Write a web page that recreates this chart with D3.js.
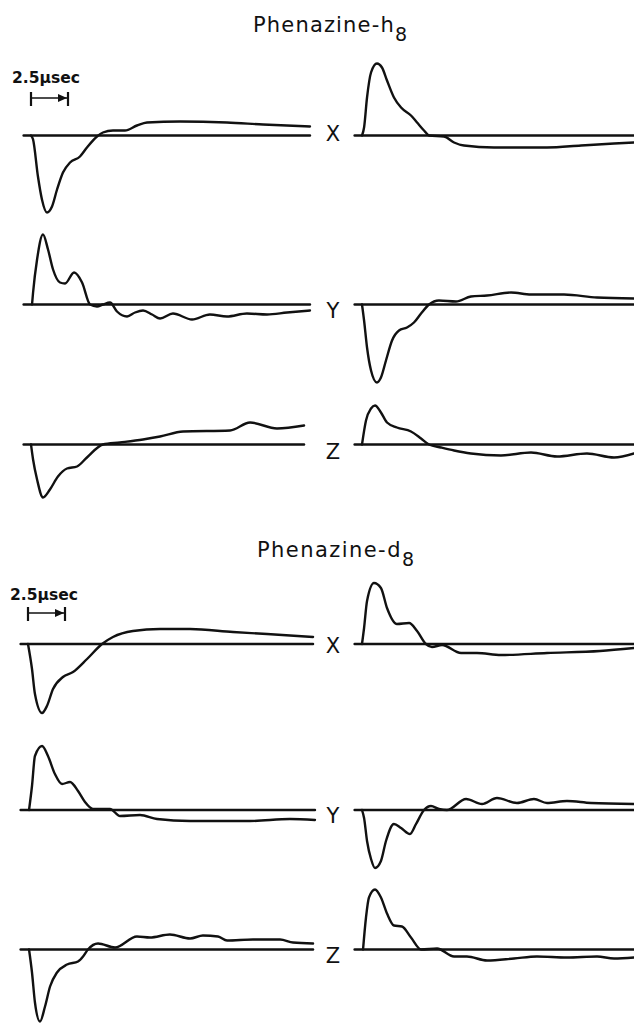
<!DOCTYPE html>
<meta charset="utf-8">
<title>Phenazine transients</title>
<script src="https://d3js.org/d3.v7.min.js"></script>
<style>
  body { margin: 0; background: #fff; }
  svg { display: block; }
  .trace, .base { fill: none; stroke: #111; stroke-width: 2.4; stroke-linejoin: round; stroke-linecap: round; }
  .lbl { font-family: "DejaVu Sans", sans-serif; fill: #111; }
</style>
<body>
<script>

// titles, row labels, time scale
var titles = ["Phenazine-h", "Phenazine-d"];
var subs = ["8", "8"];
var rowLabels = ["X", "Y", "Z"];
var barLabel = "2.5\u03bcsec";
var barLength = 2.5; // usec

// traces: [time (usec), signal (arb. units, + up)]
var h8XLeft = [[0,0],[0.14,-4],[0.47,-41],[0.74,-64],[1.08,-77],[1.42,-71],[1.76,-54],[2.16,-37],[2.64,-27],
  [3.31,-21],[3.78,-12],[4.46,-1],[4.86,3],[5.54,5],[6.35,5],[7.16,10],[7.84,13],[10.07,14],[13.24,13],[15.68,11],[18.85,9]];
var h8XRight = [[0,0],[0.14,8],[0.34,38],[0.61,63],[1.01,72],[1.35,68],[1.69,55],[2.16,38],[2.64,28],[3.31,20],
  [3.72,13],[4.19,5],[4.53,0],[5.54,-1],[6.22,-7],[6.89,-10],[8.92,-12],[10.74,-12],[12.5,-12],[14.8,-10],[17.03,-8],[18.38,-7]];
var h8YLeft = [[0.07,0],[0.14,12],[0.41,45],[0.81,70],[1.15,55],[1.49,35],[1.96,22],[2.3,21],[2.91,32],[3.45,22],
  [3.99,0],[4.46,-2],[4.86,0],[5.34,2],[5.81,-7],[6.49,-12],[7.03,-8],[7.57,-6],[8.18,-10],[8.72,-14],[9.59,-9],
  [10.88,-15],[12.09,-10],[13.24,-12],[14.59,-9],[15.95,-10],[17.3,-8],[18.85,-6]];
var h8YRight = [[0,0],[0.14,-16],[0.34,-43],[0.61,-66],[1.01,-78],[1.28,-73],[1.62,-56],[2.03,-36],[2.5,-26],
  [3.04,-23],[3.51,-18],[3.99,-9],[4.53,0],[5.2,4],[6.35,3],[7.36,8],[8.45,9],[10.07,12],[11.42,10],[13.65,10],
  [15.88,7],[18.38,6]];
var h8ZLeft = [[0,0],[0.14,-15],[0.41,-35],[0.81,-53],[1.28,-45],[1.82,-32],[2.43,-24],[3.11,-22],[3.78,-13],
  [4.86,0],[6.01,2],[7.57,5],[8.72,8],[10.27,13],[13.45,14],[14.8,22],[16.62,16],[18.45,19]];
var h8ZRight = [[0,0],[0.27,24],[0.61,36],[0.88,39],[1.28,32],[1.69,22],[2.36,17],[3.31,13],[3.99,6],[4.53,0],
  [5.34,-3],[6.22,-6],[7.36,-9],[9.39,-11],[11.42,-8],[13.18,-12],[15.2,-9],[17.03,-13],[18.38,-9]];

var d8XLeft = [[0,0],[0.27,-25],[0.47,-50],[0.95,-69],[1.28,-62],[1.69,-45],[2.36,-33],[3.04,-28],[3.99,-15],
  [5.0,0],[5.74,7],[7.09,13],[8.92,15],[10.95,15],[13.85,12],[16.15,10],[19.26,7]];
var d8XRight = [[0,0],[0.14,16],[0.34,43],[0.81,61],[1.28,56],[1.69,36],[2.36,20],[3.18,21],[3.72,13],[4.32,0],
  [4.73,-3],[5.41,-1],[6.69,-9],[7.77,-9],[9.39,-11],[12.5,-9],[16.08,-7],[18.38,-4]];
var d8YLeft = [[0.07,0],[0.27,24],[0.47,54],[0.95,64],[1.35,54],[1.82,36],[2.3,26],[2.84,28],[3.38,19],[3.85,8],
  [4.39,1],[5.54,1],[6.22,-6],[7.57,-5],[8.72,-9],[10.95,-11],[15.0,-11],[17.7,-9],[19.39,-10]];
var d8YRight = [[0,0],[0.14,-8],[0.34,-31],[0.61,-49],[0.88,-58],[1.28,-51],[1.62,-31],[2.16,-14],[2.64,-18],
  [3.24,-24],[3.65,-14],[4.19,0],[4.66,4],[5.2,1],[5.74,0],[7.03,11],[8.11,6],[9.12,12],[10.47,7],[11.62,11],
  [12.5,7],[13.85,9],[15.47,7],[18.38,6]];
var d8ZLeft = [[0.07,0],[0.27,-23],[0.47,-53],[0.81,-72],[1.15,-57],[1.49,-37],[1.96,-23],[2.64,-15],[3.38,-12],
  [3.72,-7],[4.05,0],[4.73,6],[5.88,2],[7.36,13],[8.24,12],[9.59,15],[10.95,11],[11.82,14],[12.84,13],[13.45,9],
  [15.2,10],[17.03,10],[17.91,7],[19.26,6]];
var d8ZRight = [[0.07,0],[0.27,32],[0.47,52],[0.88,60],[1.28,52],[1.69,36],[2.16,24],[2.7,23],[3.31,12],[4.0,0],
  [5.07,1],[6.22,-7],[7.09,-7],[8.45,-11],[10.27,-9],[11.82,-7],[13.85,-8],[15.88,-7],[17.03,-9],[18.38,-8]];

var h8Traces = [[h8XLeft, h8XRight], [h8YLeft, h8YRight], [h8ZLeft, h8ZRight]];
var d8Traces = [[d8XLeft, d8XRight], [d8YLeft, d8YRight], [d8ZLeft, d8ZRight]];

// page layout
var width = 634, height = 1023;
var pxPerUsec = 14.8;
var layout = [
  { traces: h8Traces, leftX0: 31, rightX0: 362, rows: [135.5, 304.5, 444.5], labelDy: [5, 13, 14],
    titleX: 253, titleY: 32, titleW: 154, barY: 98, barTextY: 83, barTextX: 12 },
  { traces: d8Traces, leftX0: 28, rightX0: 362, rows: [644, 810, 949.5], labelDy: [9, 13, 13],
    titleX: 257, titleY: 557, titleW: 157, barY: 613, barTextY: 600, barTextX: 10 }
];

var svg = d3.select("body").append("svg")
    .attr("width", width)
    .attr("height", height);

var y = d3.scaleLinear().domain([-100, 100]).range([100, -100]);

layout.forEach(function(p, pi) {
  var g = svg.append("g");

  var xl = d3.scaleLinear().domain([0, 1]).range([p.leftX0, p.leftX0 + pxPerUsec]);
  var xr = d3.scaleLinear().domain([0, 1]).range([p.rightX0, p.rightX0 + pxPerUsec]);

  // title with subscript
  var t = g.append("text").attr("class", "lbl")
      .attr("x", p.titleX).attr("y", p.titleY)
      .attr("font-size", 21)
      .attr("textLength", p.titleW)
      .attr("lengthAdjust", "spacing");
  t.append("tspan").text(titles[pi]);
  t.append("tspan").attr("dy", 9).attr("font-size", 19).text(subs[pi]);

  // time scale bar
  var bx0 = xl(0), bx1 = xl(barLength);
  g.append("text").attr("class", "lbl")
      .attr("x", p.barTextX).attr("y", p.barTextY)
      .attr("font-size", 15).attr("font-weight", "bold")
      .attr("textLength", 68).attr("lengthAdjust", "spacingAndGlyphs")
      .text(barLabel);
  g.append("line").attr("x1", bx0).attr("x2", bx1).attr("y1", p.barY).attr("y2", p.barY)
      .attr("stroke", "#111").attr("stroke-width", 1.6);
  [bx0, bx1].forEach(function(bx) {
    g.append("line").attr("x1", bx).attr("x2", bx).attr("y1", p.barY - 6).attr("y2", p.barY + 8)
        .attr("stroke", "#111").attr("stroke-width", 2.2);
  });
  g.append("path")
      .attr("d", "M" + (bx1 - 10) + "," + (p.barY - 4) + "L" + (bx1 - 1) + "," + p.barY + "L" + (bx1 - 10) + "," + (p.barY + 4) + "Z")
      .attr("fill", "#111");

  p.traces.forEach(function(pair, ri) {
    var base = p.rows[ri];
    var row = g.append("g").attr("transform", "translate(0," + base + ")");

    [[pair[0], xl], [pair[1], xr]].forEach(function(d) {
      var data = d[0], x = d[1];
      var tEnd = data[data.length - 1][0];
      row.append("line").attr("class", "base")
          .attr("x1", x(-0.5)).attr("x2", x(tEnd))
          .attr("y1", y(0)).attr("y2", y(0));
      row.append("path").attr("class", "trace")
          .datum(data)
          .attr("d", d3.line()
              .x(function(v) { return x(v[0]); })
              .y(function(v) { return y(v[1]); })
              .curve(d3.curveMonotoneX));
    });

    row.append("text").attr("class", "lbl")
        .attr("x", 333).attr("y", p.labelDy[ri])
        .attr("text-anchor", "middle")
        .attr("font-size", 21)
        .text(rowLabels[ri]);
  });
});

</script>
</body>
